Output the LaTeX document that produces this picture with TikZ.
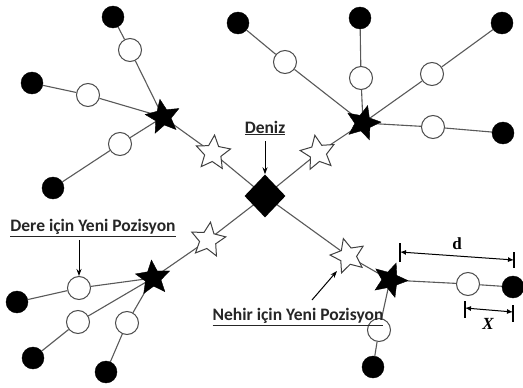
\documentclass[tikz,border=0pt]{standalone}
\usepackage{fontspec}
\setmainfont{Carlito}
\newfontfamily\serifb{Liberation Serif}
\usetikzlibrary{shapes.geometric,arrows.meta,backgrounds}
\begin{document}
\begin{tikzpicture}[x=1pt,y=-1pt,
  link/.style={draw=black!65,line width=1.1pt},
  bc/.style={circle,fill=black,draw=black,minimum size=22pt,inner sep=0pt},
  wc/.style={circle,fill=white,draw=black!70,line width=1pt,minimum size=23pt,inner sep=0pt},
  bstar/.style={star,star points=5,star point ratio=2.2,fill=black,draw=black,minimum size=36pt,inner sep=0pt},
  wstar/.style={star,star points=5,star point ratio=2.1,fill=white,draw=black!75,line width=1pt,minimum size=36pt,inner sep=0pt},
  sea/.style={diamond,fill=black,minimum width=41pt,minimum height=43pt,inner sep=0pt},
  lbl/.style={font=\bfseries\fontsize{17.5pt}{19pt}\selectfont,text=black!85,inner sep=0pt},
  ptr/.style={draw=black,line width=1pt,-{Stealth[length=7pt,width=5pt]}},
  dim/.style={draw=black,line width=1pt,{Latex[length=6pt,width=5pt]}-{Latex[length=6pt,width=5pt]}},
  tick/.style={draw=black,line width=1.2pt},
  dimlbl/.style={font=\serifb\bfseries\fontsize{17pt}{19pt}\selectfont,inner sep=0pt}]
\useasboundingbox (0,0) rectangle (523,388);
% sea
\node[sea] (D) at (265,196) {};
% top-left group
\node[bstar,rotate=10] (S1) at (163,117) {};
\node[wstar,rotate=-5] (W1) at (213,153) {};
\node[wc] (a1) at (130,50) {}; \node[bc] (A1) at (113,17) {};
\node[wc] (a2) at (88,95) {};  \node[bc] (A2) at (32,83) {};
\node[wc] (a3) at (120,144) {}; \node[bc] (A3) at (53,188) {};
% top-right group
\node[bstar,rotate=-15] (S2) at (363,123) {};
\node[wstar,rotate=10] (W2) at (318,153) {};
\node[wc] (b1) at (285,62) {}; \node[bc] (B1) at (238,23) {};
\node[wc] (b2) at (361,78) {}; \node[bc] (B2) at (360,18) {};
\node[wc] (b3) at (432,74) {}; \node[bc] (B3) at (502,23) {};
\node[wc] (b4) at (433,127) {}; \node[bc] (B4) at (503,133) {};
% bottom-left group
\node[bstar,rotate=5] (S3) at (153,278) {};
\node[wstar,rotate=-8] (W3) at (208,240) {};
\node[wc] (c1) at (79,288) {}; \node[bc] (C1) at (17,302) {};
\node[wc] (c2) at (78,322) {}; \node[bc] (C2) at (33,358) {};
\node[wc] (c3) at (127,323) {}; \node[bc] (C3) at (106,372) {};
% bottom-right group
\node[bstar,rotate=-20] (S4) at (390,280) {};
\node[wstar,rotate=15] (W4) at (348,256) {};
\node[wc] (d1) at (468,284) {}; \node[bc] (E1) at (513,287) {};
\node[wc] (d2) at (379,330) {}; \node[bc] (E2) at (373,367) {};
% links
\begin{scope}[on background layer]
\fill[white] (0,0) rectangle (523,388);
\draw[link] (D.center) -- (W1.center) -- (S1.center);
\draw[link] (D.center) -- (W2.center) -- (S2.center);
\draw[link] (D.center) -- (W3.center) -- (S3.center);
\draw[link] (D.center) -- (W4.center) -- (S4.center);
\draw[link] (S1.center) -- (a1) -- (A1);
\draw[link] (S1.center) -- (a2) -- (A2);
\draw[link] (S1.center) -- (a3) -- (A3);
\draw[link] (S2.center) -- (b1) -- (B1);
\draw[link] (S2.center) -- (b2) -- (B2);
\draw[link] (S2.center) -- (b3) -- (B3);
\draw[link] (S2.center) -- (b4) -- (B4);
\draw[link] (S3.center) -- (c1) -- (C1);
\draw[link] (S3.center) -- (c2) -- (C2);
\draw[link] (S3.center) -- (c3) -- (C3);
\draw[link] (S4.center) -- (d1) -- (E1);
\draw[link] (S4.center) -- (d2) -- (E2);
\end{scope}
% labels
\node[lbl] (Ldeniz) at (265,128) {\underline{Deniz}};
\coordinate (dz1) at (265,141);
\draw[ptr] (dz1) -- (D.north);
\node[lbl] (Ldere) at (93,228) {\underline{Dere için Yeni Pozisyon}};
\coordinate (dr0) at (79,240);
\draw[ptr] (dr0) -- (c1.north);
\node[lbl] (Lnehir) at (298,317) {\underline{Nehir için Yeni Pozisyon}};
\coordinate (nh0) at (312,300);
\coordinate (nh1) at (337,271);
\draw[ptr] (nh0) -- (nh1);
% dimension d
\coordinate (dA) at (400,252); \coordinate (dB) at (514,260);
\draw[dim] (dA) -- (dB);
\draw[tick] (400,243) -- (400,262);
\draw[tick] (514,252) -- (514,268);
\node[dimlbl] (ld) at (457,244) {d};
% dimension X
\coordinate (xA) at (465,308); \coordinate (xB) at (513,312);
\draw[dim] (xA) -- (xB);
\draw[tick] (465,301) -- (465,318);
\draw[tick] (513,305) -- (513,322);
\node[dimlbl,font=\serifb\bfseries\itshape\fontsize{17pt}{19pt}\selectfont] (lx) at (488,324) {X};
\end{tikzpicture}
\end{document}
